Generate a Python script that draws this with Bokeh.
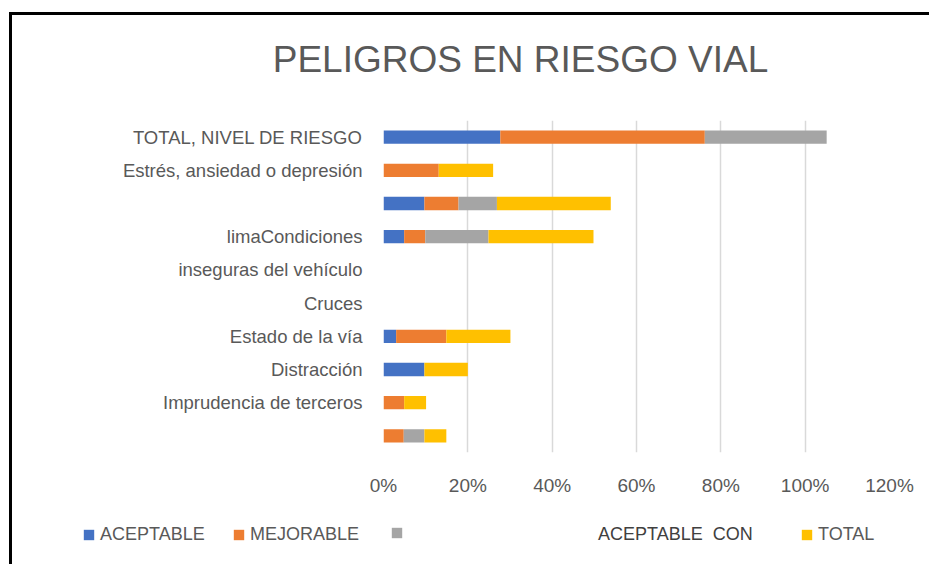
from bokeh.plotting import figure
from bokeh.layouts import column
from bokeh.models import (Range1d, FixedTicker, NumeralTickFormatter, Legend,
                          LegendItem, ColumnDataSource, Label)
from bokeh.embed import file_html
from bokeh.resources import INLINE

# ---- data (top row first) ----
chart_title = "PELIGROS EN RIESGO VIAL"
categories = ["TOTAL, NIVEL DE RIESGO", "Estrés, ansiedad o depresión", "",
              "limaCondiciones", "inseguras del vehículo", "Cruces",
              "Estado de la vía", "Distracción", "Imprudencia de terceros", ""]
aceptable = [0.277, 0.0, 0.097, 0.049, 0.0, 0.0, 0.030, 0.097, 0.0, 0.0]
mejorable = [0.485, 0.131, 0.081, 0.050, 0.0, 0.0, 0.119, 0.0, 0.049, 0.048]
gris = [0.289, 0.0, 0.091, 0.150, 0.0, 0.0, 0.0, 0.0, 0.0, 0.049]
total = [0.0, 0.129, 0.270, 0.249, 0.0, 0.0, 0.152, 0.103, 0.052, 0.052]
x_ticks = [0, 0.2, 0.4, 0.6, 0.8, 1.0, 1.2]
series_names = ["ACEPTABLE", "MEJORABLE", "", "TOTAL"]
series_colors = ["#4472C4", "#ED7D31", "#A5A5A5", "#FFC000"]
extra_legend_text = "ACEPTABLE  CON"

FONT = "Liberation Sans"
TXT = "#595959"

n = len(categories)
positions = [n - i for i in range(n)]
source = ColumnDataSource(dict(y=positions, ace=aceptable, mej=mejorable,
                               gri=gris, tot=total))
stack_cols = ["ace", "mej", "gri", "tot"]

W = 917

# ---- title strip ----
TH = 80
t = figure(width=W, height=TH, output_backend="svg", toolbar_location=None,
           x_range=Range1d(0, W), y_range=Range1d(0, TH),
           x_axis_type=None, y_axis_type=None,
           min_border_left=0, min_border_right=0, min_border_top=0, min_border_bottom=0)
t.frame_align = False
t.outline_line_color = None
t.add_layout(Label(x=508, y=36, text=chart_title, text_align="center",
                   text_baseline="middle", text_font=FONT, text_font_size="37px",
                   text_color=TXT))

# ---- main chart ----
p = figure(width=W, height=410, output_backend="svg", toolbar_location=None,
           x_range=Range1d(0, 1.2), y_range=Range1d(0.5, n + 0.5),
           min_border_left=371, min_border_right=40,
           min_border_top=25, min_border_bottom=53)
p.outline_line_color = None

renderers = p.hbar_stack(stack_cols, y="y", height=0.4,
                         fill_color=series_colors, line_color=None,
                         source=source)

p.xaxis.ticker = FixedTicker(ticks=x_ticks)
p.xaxis.formatter = NumeralTickFormatter(format="0%")
p.yaxis.ticker = FixedTicker(ticks=positions)
p.yaxis.major_label_overrides = {pos: lab for pos, lab in zip(positions, categories)}
for ax in (p.xaxis[0], p.yaxis[0]):
    ax.axis_line_color = None
    ax.major_tick_line_color = None
    ax.minor_tick_line_color = None
    ax.major_tick_out = 0
    ax.major_tick_in = 0
    ax.major_label_text_color = TXT
    ax.major_label_text_font = FONT
p.xaxis.major_label_text_font_size = "19px"
p.xaxis.major_label_standoff = 22
p.yaxis.major_label_text_font_size = "18.5px"
p.yaxis.major_label_standoff = 21

p.xgrid.grid_line_color = "#D9D9D9"
p.xgrid.grid_line_width = 1.5
p.ygrid.grid_line_color = None

# ---- legend strip: same series, its view placed away from the bars ----
q = figure(width=W, height=59, output_backend="svg", toolbar_location=None,
           x_range=Range1d(0, 1.2), y_range=Range1d(n + 5, n + 6),
           x_axis_type=None, y_axis_type=None,
           min_border_left=0, min_border_right=0, min_border_top=0, min_border_bottom=0)
q.frame_align = False
q.outline_line_color = None
leg_renderers = q.hbar_stack(stack_cols, y="y", height=0.4,
                             fill_color=series_colors, line_color=None,
                             source=source)


def make_legend(label, rend, x, y=19, glyph_w=13, standoff=5, color=TXT):
    leg = Legend(items=[LegendItem(label=label, renderers=[rend])],
                 location=(x, y), orientation="horizontal",
                 padding=0, margin=0, border_line_color=None,
                 background_fill_alpha=0, glyph_width=glyph_w, glyph_height=13,
                 label_standoff=standoff, label_text_font=FONT,
                 label_text_font_size="18px", label_text_color=color)
    q.add_layout(leg)


make_legend(series_names[0], leg_renderers[0], 70)
make_legend(series_names[1], leg_renderers[1], 220)
make_legend(series_names[2], leg_renderers[2], 378, y=25)
make_legend(extra_legend_text, leg_renderers[2], 586, glyph_w=0, standoff=0, color="#404040")
make_legend(series_names[3], leg_renderers[3], 788)

layout = column(t, p, q, spacing=0)
layout.margin = (12, 0, 0, 9)
layout.styles = {"border-top": "3px solid black", "border-left": "3px solid black"}

open("out.html", "w").write(file_html(layout, INLINE))
